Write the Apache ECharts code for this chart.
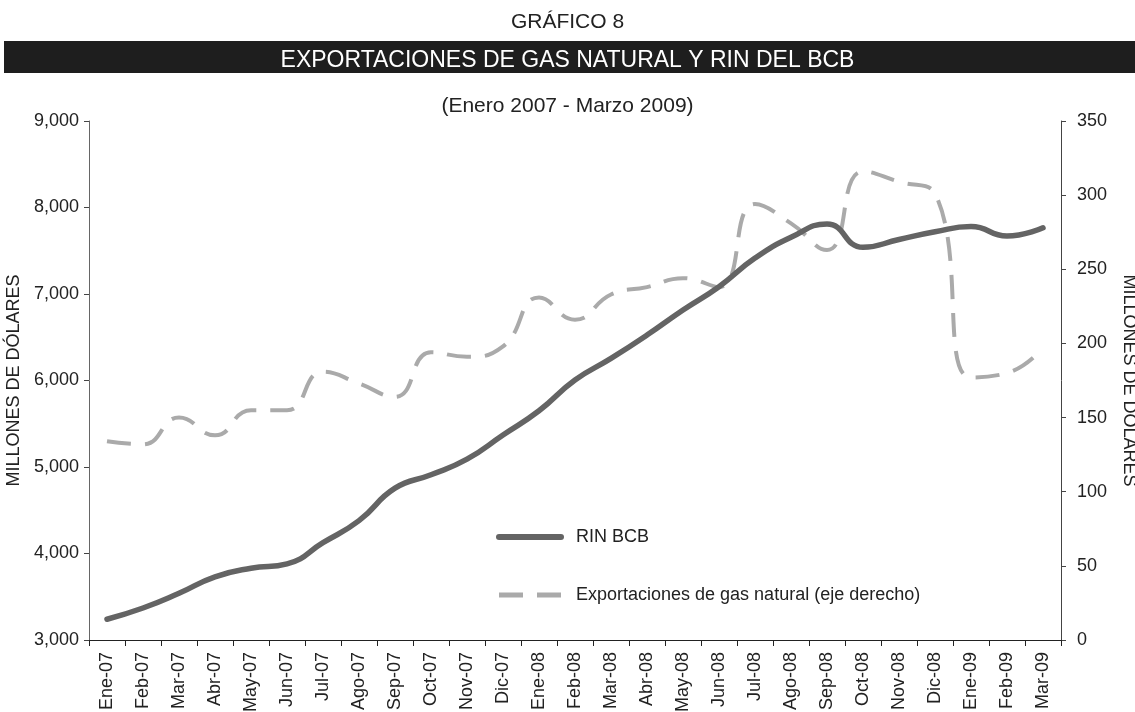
<!DOCTYPE html>
<html>
<head>
<meta charset="utf-8">
<script src="https://cdn.jsdelivr.net/npm/echarts@6/dist/echarts.min.js"></script>
<style>
  html, body { margin: 0; padding: 0; background: #fff; }
  #main { width: 1135px; height: 712px; }
</style>
</head>
<body>
<div id="main"></div>
<script>
// meses
var categorias = ['Ene-07', 'Feb-07', 'Mar-07', 'Abr-07', 'May-07', 'Jun-07', 'Jul-07', 'Ago-07', 'Sep-07',
  'Oct-07', 'Nov-07', 'Dic-07', 'Ene-08', 'Feb-08', 'Mar-08', 'Abr-08', 'May-08', 'Jun-08', 'Jul-08',
  'Ago-08', 'Sep-08', 'Oct-08', 'Nov-08', 'Dic-08', 'Ene-09', 'Feb-09', 'Mar-09'];
// RIN BCB (eje izquierdo)
var rinBcb = [3240, 3370, 3540, 3730, 3830, 3880, 4125, 4380, 4755, 4910, 5090, 5370, 5650, 6005,
  6255, 6525, 6815, 7085, 7415, 7655, 7810, 7540, 7630, 7720, 7780, 7670, 7765];
// exportaciones de gas natural (eje derecho)
var gasNatural = [134, 132, 150, 138, 155, 155, 181, 173, 164, 194, 191, 198, 231, 216, 233, 238,
  244, 238, 294, 281, 263, 316, 309, 301, 177, 180, 197];

var fuente = 'Liberation Sans, Arial, sans-serif';
var colorRin = '#646464';
var colorGas = '#aaaaaa';

var myChart = echarts.init(document.getElementById('main'));

myChart.setOption({
  animation: false,
  backgroundColor: '#fff',
  textStyle: { fontFamily: fuente },
  title: [
    {
      text: 'GRÁFICO 8',
      left: 'center',
      top: 7,
      textStyle: { fontSize: 21, fontWeight: 'normal', color: '#222' }
    },
    {
      text: 'EXPORTACIONES DE GAS NATURAL Y RIN DEL BCB',
      left: 'center',
      top: 44,
      textStyle: { fontSize: 23, fontWeight: 'normal', color: '#fff' }
    },
    {
      text: '(Enero 2007 - Marzo 2009)',
      left: 'center',
      top: 91,
      textStyle: { fontSize: 21, fontWeight: 'normal', color: '#222' }
    }
  ],
  graphic: [
    {
      type: 'rect',
      z: -1,
      shape: { x: 4, y: 41, width: 1131, height: 32 },
      style: { fill: '#1e1e1e' }
    }
  ],
  legend: {
    orient: 'vertical',
    left: 491,
    top: 523,
    itemWidth: 62,
    itemHeight: 20,
    itemGap: 40,
    itemStyle: { opacity: 0 },
    textStyle: { fontSize: 18, color: '#222', padding: [0, 0, 0, 10] },
    data: [
      { name: 'RIN BCB', lineStyle: { color: colorRin, width: 6, cap: 'round' } },
      { name: 'Exportaciones de gas natural (eje derecho)', lineStyle: { color: colorGas, width: 5, type: [24, 14] } }
    ]
  },
  grid: {
    left: 89,
    right: 74,
    top: 121,
    bottom: 72,
    containLabel: false,
    outerBoundsMode: 'none'
  },
  xAxis: {
    type: 'category',
    data: categorias,
    boundaryGap: true,
    axisLine: { lineStyle: { color: '#222', width: 1 } },
    axisTick: { show: true, length: 6, lineStyle: { color: '#222' } },
    axisLabel: { rotate: 90, fontSize: 18, color: '#222', margin: 12, interval: 0 }
  },
  yAxis: [
    {
      type: 'value',
      min: 3000,
      max: 9000,
      interval: 1000,
      name: 'MILLONES DE DÓLARES',
      nameLocation: 'middle',
      nameGap: 59,
      nameRotate: 90,
      nameTextStyle: { fontSize: 18, color: '#222' },
      splitLine: { show: false },
      axisLine: { show: true, lineStyle: { color: '#666' } },
      axisTick: { show: true, length: 5, lineStyle: { color: '#444' } },
      axisLabel: {
        fontSize: 18, color: '#222', margin: 10,
        formatter: function (v) { return v.toLocaleString('en-US'); }
      }
    },
    {
      type: 'value',
      min: 0,
      max: 350,
      interval: 50,
      position: 'right',
      name: 'MILLONES DE DÓLARES',
      nameLocation: 'middle',
      nameGap: 59,
      nameRotate: -90,
      nameTextStyle: { fontSize: 18, color: '#222' },
      splitLine: { show: false },
      axisLine: { show: true, lineStyle: { color: '#444' } },
      axisTick: { show: true, length: 5, lineStyle: { color: '#444' } },
      axisLabel: { fontSize: 18, color: '#222', margin: 16 }
    }
  ],
  series: [
    {
      name: 'RIN BCB',
      type: 'line',
      yAxisIndex: 0,
      data: rinBcb,
      smooth: 0.5,
      symbol: 'none',
      z: 3,
      lineStyle: { color: colorRin, width: 5.5, cap: 'round' },
      itemStyle: { color: colorRin }
    },
    {
      name: 'Exportaciones de gas natural (eje derecho)',
      type: 'line',
      yAxisIndex: 1,
      data: gasNatural,
      smooth: 0.5,
      symbol: 'none',
      z: 2,
      lineStyle: { color: colorGas, width: 4, type: [24, 14] },
      itemStyle: { color: colorGas }
    }
  ]
});
</script>
</body>
</html>
